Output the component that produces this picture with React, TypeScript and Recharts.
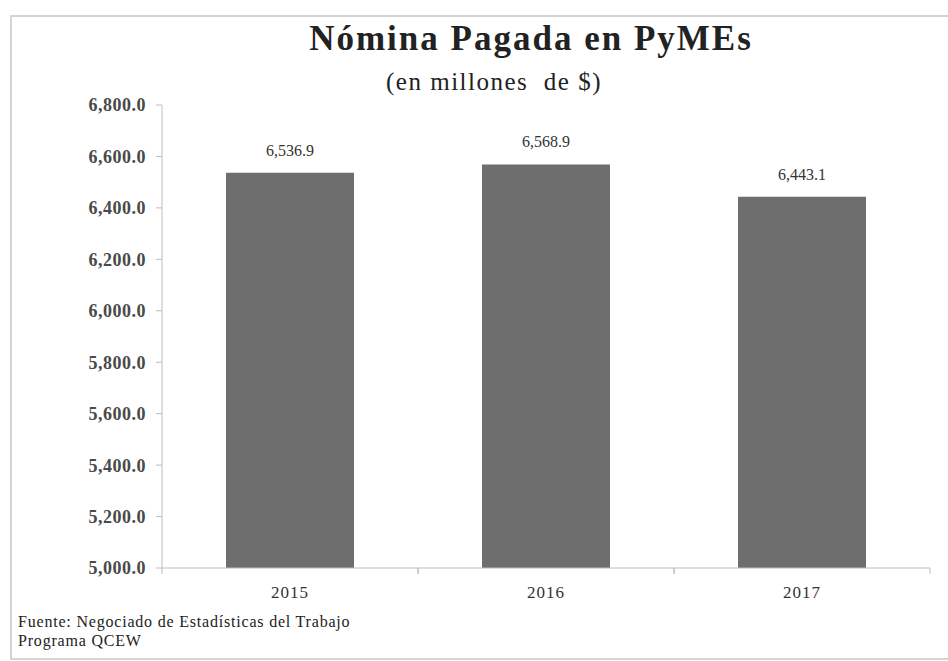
import { BarChart, Bar, XAxis, YAxis, LabelList } from 'recharts';

const years = ['2015', '2016', '2017'];
const payroll = [6536.9, 6568.9, 6443.1];
const yTicks = [5000, 5200, 5400, 5600, 5800, 6000, 6200, 6400, 6600, 6800];

const data = years.map((year, i) => ({ year, value: payroll[i] }));

const fmt = (v: number) =>
  v.toLocaleString('en-US', { minimumFractionDigits: 1, maximumFractionDigits: 1 });

const serif = '"Liberation Serif", "Times New Roman", serif';

// Excel-style: label under the band centre, tick marks at the band edges
function YearTick(props: any) {
  const { x, y, payload } = props;
  const half = payload.offset ?? 0;
  return (
    <g>
      <line x1={x - half} y1={y - 8} x2={x - half} y2={y - 2} stroke="#bdbdbd" />
      <line x1={x + half} y1={y - 8} x2={x + half} y2={y - 2} stroke="#bdbdbd" />
      <text
        x={x}
        y={y + 22}
        textAnchor="middle"
        fontFamily={serif}
        fontSize={17}
        letterSpacing={1}
        fill="#333"
      >
        {payload.value}
      </text>
    </g>
  );
}

export default function App() {
  return (
    <div
      style={{
        position: 'absolute',
        left: 0,
        top: 0,
        width: 948,
        height: 661,
        background: '#fff',
        fontFamily: serif,
      }}
    >
      <div
        style={{
          position: 'absolute',
          left: 10,
          top: 15,
          width: 938,
          height: 645,
          borderTop: '2px solid #d4d4d4',
          borderLeft: '2px solid #d4d4d4',
          borderBottom: '2px solid #d4d4d4',
          boxSizing: 'border-box',
        }}
      />
      <div
        style={{
          position: 'absolute',
          left: 0,
          width: 1062,
          top: 19,
          textAlign: 'center',
          fontSize: 35,
          fontWeight: 'bold',
          letterSpacing: 2,
          color: '#222',
        }}
      >
        Nómina Pagada en PyMEs
      </div>
      <div
        style={{
          position: 'absolute',
          left: 0,
          width: 988,
          top: 68,
          textAlign: 'center',
          fontSize: 25,
          letterSpacing: 1.5,
          color: '#222',
          whiteSpace: 'pre',
        }}
      >
        (en millones  de $)
      </div>

      <div style={{ position: 'absolute', left: 0, top: 0 }}>
        <BarChart
          width={948}
          height={661}
          data={data}
          margin={{ top: 105, right: 18, bottom: 0, left: 0 }}
          barCategoryGap="25%"
        >
          <XAxis
            dataKey="year"
            axisLine={{ stroke: '#bdbdbd' }}
            tickLine={false}
            tick={<YearTick />}
            interval={0}
            height={93}
          />
          <YAxis
            domain={[5000, 6800]}
            ticks={yTicks}
            interval={0}
            width={162}
            tickFormatter={fmt}
            axisLine={{ stroke: '#bdbdbd' }}
            tickLine={{ stroke: '#bdbdbd' }}
            tickSize={6}
            tickMargin={10}
            tick={{
              fontFamily: serif,
              fontSize: 18,
              fontWeight: 'bold',
              letterSpacing: 0.5,
              fill: '#4a4a4a',
            }}
          />
          <Bar dataKey="value" fill="#6e6e6e" isAnimationActive={false}>
            <LabelList
              dataKey="value"
              position="top"
              offset={17}
              formatter={(v: any) => fmt(Number(v))}
              style={{ fontFamily: serif, fontSize: 16, fill: '#333' }}
            />
          </Bar>
        </BarChart>
      </div>

      <div
        style={{
          position: 'absolute',
          left: 18,
          top: 612,
          fontSize: 16,
          letterSpacing: 0.8,
          lineHeight: '19px',
          color: '#222',
        }}
      >
        Fuente: Negociado de Estadísticas del Trabajo
        <br />
        Programa QCEW
      </div>
    </div>
  );
}
